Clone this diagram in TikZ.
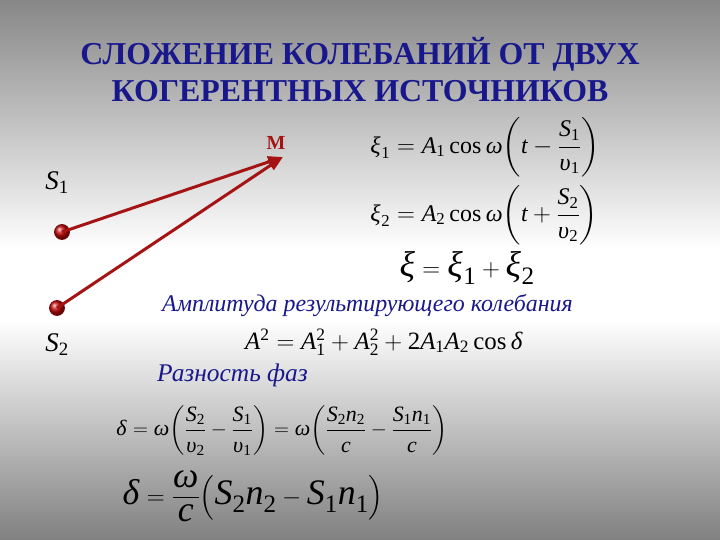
\documentclass[tikz,border=0pt]{standalone}
\usepackage{amsmath}
\usepackage{mathspec}
\setmainfont{Liberation Serif}
\setmathsfont(Digits,Latin,Greek){Liberation Serif}
\usetikzlibrary{arrows.meta}
\definecolor{navy}{RGB}{24,24,140}
\definecolor{darkred}{RGB}{165,20,20}
\definecolor{dotred}{RGB}{200,10,10}
\definecolor{bggray}{RGB}{135,135,135}
\newcommand{\tallp}[1]{\left(\rule[-21bp]{0pt}{48bp}#1\right)}
\newcommand{\nm}[1]{\rule[-4bp]{0pt}{4bp}#1}
\newcommand{\dn}[1]{\rule{0pt}{19bp}#1}
\newcommand{\cosop}{\mathop{\textup{cos}}\nolimits}
\begin{document}
\begin{tikzpicture}[x=1bp,y=-1bp,
  title/.style={text=navy,font=\fontsize{32}{36}\selectfont\bfseries,inner sep=0pt},
  dot/.style={circle,shading=ball,ball color=dotred,draw=darkred!70!black,line width=0.8bp,minimum size=15bp,inner sep=0pt},
  ray/.style={draw=darkred,line width=3bp,-{Triangle[length=15bp,width=11bp]}},
  eq/.style={inner sep=0pt,font=\fontsize{24}{28}\selectfont},
  bigeq/.style={inner sep=0pt,font=\fontsize{36}{40}\selectfont},
  label/.style={inner sep=0pt,font=\fontsize{27}{30}\selectfont},
  caption/.style={inner sep=0pt,text=navy,font=\fontsize{24}{28}\selectfont\itshape}]
\useasboundingbox (0,0) rectangle (720,540);
\shade[top color=bggray,bottom color=white] (0,0) rectangle (720,250);
\fill[white] (0,249) rectangle (720,321);
\shade[top color=white,bottom color=bggray!95!black] (0,320) rectangle (720,540);
% title
\node[title] (t1) at (360,54) {СЛОЖЕНИЕ КОЛЕБАНИЙ ОТ ДВУХ};
\node[title] (t2) at (360,91) {КОГЕРЕНТНЫХ ИСТОЧНИКОВ};
% sources and rays
\node[dot] (s1) at (62,232) {};
\node[dot] (s2) at (57,308) {};
\coordinate (m) at (283,157);
\draw[ray] (s1.center) -- (m);
\draw[ray] (s2.center) -- (m);
\node[inner sep=0pt,text=darkred,font=\fontsize{20}{24}\selectfont\bfseries] (ml) at (276,143) {M};
\node[label] (s1l) at (57,183) {$S_1$};
\node[label] (s2l) at (57,345) {$S_2$};
% equations
\node[eq,anchor=west] (e1) at (370,147) {$\xi_1 = A_1\cosop\omega\!\tallp{t-\dfrac{\nm{S_1}}{\dn{\upsilon_1}}}$};
\node[eq,anchor=west] (e2) at (370,215) {$\xi_2 = A_2\cosop\omega\!\tallp{t+\dfrac{\nm{S_2}}{\dn{\upsilon_2}}}$};
\node[bigeq] (e3) at (467,268) {$\xi=\xi_1+\xi_2$};
\node[caption,anchor=west] (c1) at (162,306) {Амплитуда результирующего колебания};
\node[caption,anchor=west,font=\fontsize{25.5}{28}\selectfont\itshape] (c2) at (157,375) {Разность фаз};
\node[eq,anchor=west,font=\fontsize{25}{28}\selectfont] (e4) at (245,342) {$A^2=A_1^2+A_2^2+2A_1A_2\cosop\delta$};
\node[eq,anchor=west,font=\fontsize{22}{26}\selectfont] (e5) at (116,431) {$\delta=\omega\!\tallp{\dfrac{\nm{S_2}}{\dn{\upsilon_2}}-\dfrac{\nm{S_1}}{\dn{\upsilon_1}}}=\omega\!\tallp{\dfrac{\nm{S_2n_2}}{\dn{c}}-\dfrac{\nm{S_1n_1}}{\dn{c}}}$};
\node[bigeq,anchor=west] (e6) at (122,496) {$\delta=\dfrac{\omega}{c}\Bigl(S_2n_2-S_1n_1\Bigr)$};
\end{tikzpicture}
\end{document}
